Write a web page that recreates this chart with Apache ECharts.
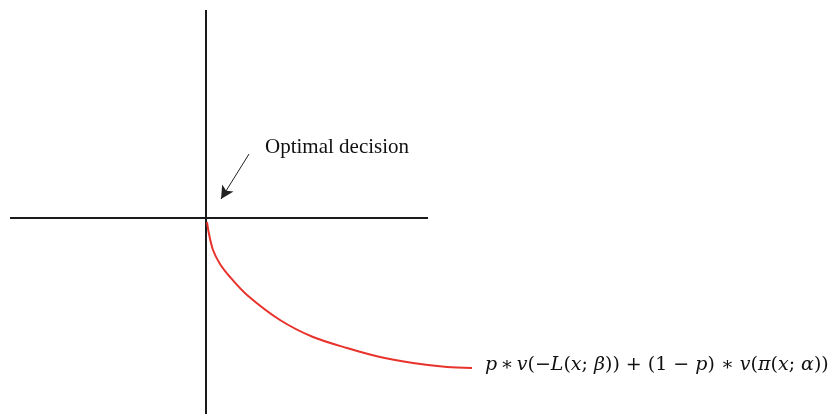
<!DOCTYPE html>
<html lang="en">
<head>
  <meta charset="UTF-8">
  <title>Optimal decision</title>
  <script src="https://cdn.jsdelivr.net/npm/echarts@6/dist/echarts.min.js"></script>
  <style>
    html, body { margin: 0; padding: 0; background: #fff; }
    #chart { width: 836px; height: 414px; }
  </style>
</head>
<body>
<div id="chart"></div>
<script>
  // axis segments (data units, origin at the crossing)
  const hAxis = [[-196, 0], [222, 0]];
  const vAxis = [[0, 208], [0, -196]];
  // red curve
  const curveX = [1, 3, 7, 14, 24, 41, 74, 107, 141, 174, 207, 241, 266];
  const curveY = [-4, -16, -32, -46, -59, -77, -102, -119, -130, -139, -145, -149, -150];
  // arrow: tail -> head
  const arrowFrom = [43, 64];
  const arrowTo = [15, 19];

  const curve = curveX.map((x, i) => [x, curveY[i]]);

  const chart = echarts.init(document.getElementById('chart'));
  const option = {
    animation: false,
    backgroundColor: '#fff',
    grid: { left: 0, right: 0, top: 0, bottom: 0 },
    xAxis: { type: 'value', min: -206, max: 630, show: false },
    yAxis: { type: 'value', min: -196, max: 218, show: false },
    series: [
      {
        type: 'line', data: hAxis, symbol: 'none',
        lineStyle: { color: '#1a1a1a', width: 2 }
      },
      {
        type: 'line', data: vAxis, symbol: 'none',
        lineStyle: { color: '#1a1a1a', width: 2 }
      },
      {
        type: 'line', data: curve, symbol: 'none',
        smooth: 0.3,
        lineStyle: { color: '#e8322c', width: 2 },
        markLine: {
          silent: true,
          symbol: ['none', 'arrow'],
          symbolSize: [10, 13],
          label: { show: false },
          lineStyle: { color: '#222', width: 1, type: 'solid' },
          data: [[{ coord: arrowFrom }, { coord: arrowTo }]]
        }
      }
    ],
    graphic: [
      {
        type: 'text', left: 265, top: 137,
        style: {
          text: 'Optimal decision',
          font: '21px "Liberation Serif", "Times New Roman", serif',
          fill: '#111'
        }
      },
      {
        type: 'text', left: 485, top: 356,
        style: {
          text: '{i|p} {n|∗} {i|v}{n|(−}{i|L}{n|(}{i|x}{n|; }{i|β}{n|)) + (1 − }{i|p}{n|) ∗ }{i|v}{n|(}{i|π}{n|(}{i|x}{n|; }{i|α}{n|))}',
          fill: '#111',
          rich: {
            i: { fontFamily: '"DejaVu Serif", serif', fontStyle: 'italic', fontSize: 19, fill: '#111' },
            n: { fontFamily: '"DejaVu Serif", serif', fontSize: 19, fill: '#111' }
          }
        }
      }
    ]
  };
  chart.setOption(option);
</script>
</body>
</html>
